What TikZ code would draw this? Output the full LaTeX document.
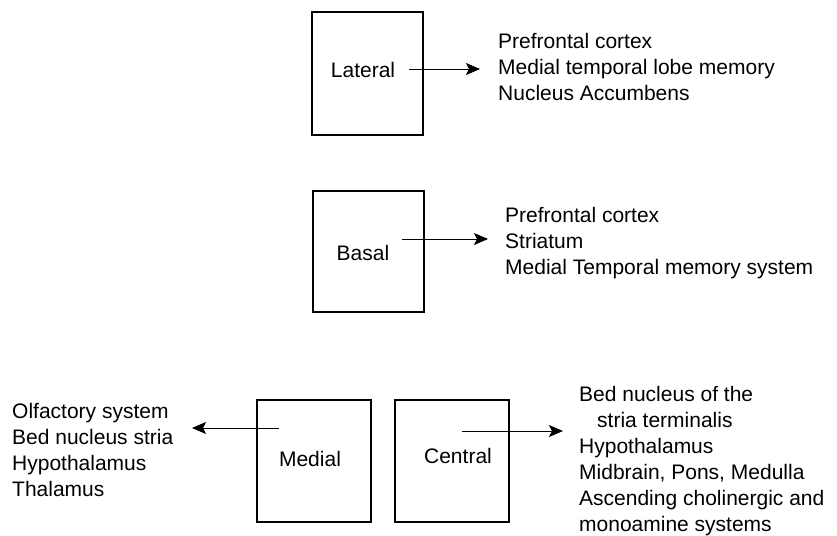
\documentclass[tikz,border=0pt]{standalone}
\usepackage{fontspec}
\setmainfont{Liberation Sans}
\usetikzlibrary{arrows.meta}

\tikzset{
  nucleus/.style={draw, line width=1.1pt, inner sep=0pt},
  tag/.style={font=\fontsize{21}{26}\selectfont, inner sep=0pt},
  targets/.style={font=\fontsize{21}{26}\selectfont, align=left, anchor=north west, inner sep=0pt},
  proj/.style={line width=0.9pt, -{Stealth[length=14pt, width=12pt, inset=3pt]}}
}

\begin{document}
\begin{tikzpicture}[x=1pt, y=-1pt]
  \useasboundingbox (0,0) rectangle (837,535);

  % the four nuclei
  \node[nucleus, minimum width=111pt, minimum height=123pt] (lateral) at (367.5,73.5) {};
  \node[nucleus, minimum width=111pt, minimum height=121pt] (basal) at (368.5,251.5) {};
  \node[nucleus, minimum width=114pt, minimum height=122pt] (medial) at (314,461) {};
  \node[nucleus, minimum width=114pt, minimum height=122pt] (central) at (452,461) {};

  \node[tag] (lateral-tag) at (363,70) {Lateral};
  \node[tag] (basal-tag) at (363,253) {Basal};
  \node[tag] (medial-tag) at (310,459) {Medial};
  \node[tag] (central-tag) at (458,456) {Central};

  % where they project
  \node[targets] (lateral-out) at (498,33) {Prefrontal cortex\\Medial temporal lobe memory\\Nucleus Accumbens};
  \node[targets] (basal-out) at (505,207) {Prefrontal cortex\\Striatum\\Medial Temporal memory system};
  \node[targets] (medial-out) at (12,403) {Olfactory system\\Bed nucleus stria\\Hypothalamus\\Thalamus};
  \node[targets] (central-out) at (579,386) {Bed nucleus of the\\\hspace*{18pt}stria terminalis\\Hypothalamus\\Midbrain, Pons, Medulla\\Ascending cholinergic and\\monoamine systems};

  \coordinate (lateral-src) at (409,69);
  \coordinate (lateral-dst) at (480,69);
  \coordinate (basal-src) at (402,239);
  \coordinate (basal-dst) at (488,239);
  \coordinate (medial-src) at (279,428);
  \coordinate (medial-dst) at (192,428);
  \coordinate (central-src) at (462,431);
  \coordinate (central-dst) at (563,431);

  \draw[proj] (lateral-src) -- (lateral-dst);
  \draw[proj] (basal-src) -- (basal-dst);
  \draw[proj] (medial-src) -- (medial-dst);
  \draw[proj] (central-src) -- (central-dst);
\end{tikzpicture}
\end{document}
